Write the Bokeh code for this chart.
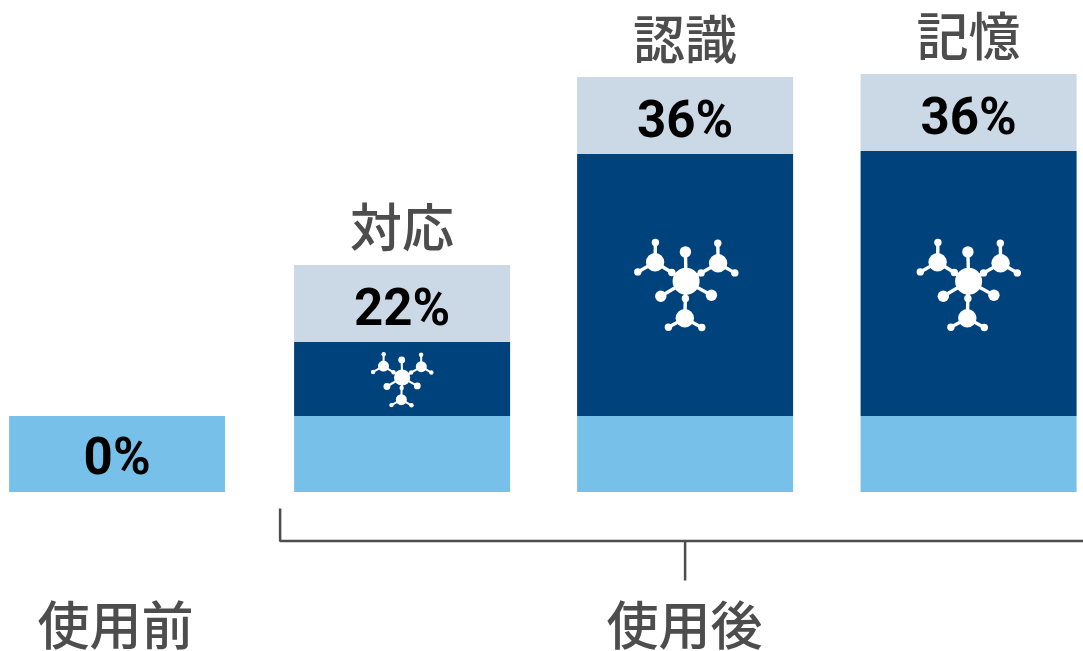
from bokeh.plotting import figure
from bokeh.models import Range1d
from bokeh.core.properties import value
from bokeh.embed import file_html
from bokeh.resources import INLINE
import numpy as np

categories = ["使用前", "対応", "認識", "記憶"]
percent_labels = ["0%", "22%", "36%", "36%"]
base_heights = [76, 76, 76, 76]
effect_heights = [0, 74, 262, 265]
cap_heights = [0, 77, 77, 77]
bar_centers = [117, 402, 685, 968.5]
group_labels = ["使用前", "使用後"]

BAR_W = 216
BASE, DARK, CAP = "#76C0E9", "#00427C", "#CBD8E5"
INK = "#4D4D4D"
CJK = value("Noto Sans CJK JP Medium")

p = figure(width=1083, height=651, output_backend="svg", toolbar_location=None,
           x_range=Range1d(0.4, 1083.4), y_range=Range1d(491.5 - 651, 491.5),
           min_border=0, outline_line_color=None, background_fill_color="white")
p.xaxis.visible = False
p.yaxis.visible = False
p.grid.visible = False

b = np.array(base_heights, dtype=float)
d = b + np.array(effect_heights, dtype=float)
c = d + np.array(cap_heights, dtype=float)
x = np.array(bar_centers, dtype=float)

p.vbar(x=x, width=BAR_W, bottom=0, top=b, fill_color=BASE, line_color=None)
p.vbar(x=x[1:], width=BAR_W, bottom=b[1:], top=d[1:], fill_color=DARK, line_color=None)
p.vbar(x=x[1:], width=BAR_W, bottom=d[1:], top=c[1:], fill_color=CAP, line_color=None)

# molecule icon (offsets in px, y up, from icon centre)
nodes = [(0, 0, 13.5), (-0.7, 29.3, 5.7), (-25.3, -15, 5.7), (25.3, -14, 5.7),
         (-14.3, 8.7, 3.7), (15, 8.3, 3.7), (-0.7, -17.3, 3.7),
         (-31, 19, 9.2), (-30.7, 38.7, 3.7), (-48.3, 9.3, 3.7),
         (32, 18, 9.2), (31.7, 38, 3.7), (48.7, 8.3, 3.7),
         (-1.3, -37, 9.2), (-17.7, -46, 3.7), (15.7, -46.3, 3.7)]
links = [(0, 1), (0, 2), (0, 3), (0, 4), (0, 5), (0, 6), (4, 7), (7, 8), (7, 9),
         (5, 10), (10, 11), (10, 12), (6, 13), (13, 14), (13, 15)]

def icon(cx, cy, s):
    xs = [cx + n[0] * s for n in nodes]
    ys = [cy + n[1] * s for n in nodes]
    rs = [n[2] * s for n in nodes]
    p.segment(x0=[xs[i] for i, j in links], y0=[ys[i] for i, j in links],
              x1=[xs[j] for i, j in links], y1=[ys[j] for i, j in links],
              line_color="white", line_width=3.4 * s)
    p.circle(x=xs, y=ys, radius=rs, fill_color="white", line_color=None)

icon(x[1], 114.5, 0.6)
icon(x[2] + 1, 210.8, 1)
icon(x[3], 210.8, 1)

# percent labels
pct_y = [b[0] / 2 - 2.5] + [(d[i] + c[i]) / 2 - 4 for i in (1, 2, 3)]
p.text(x=x, y=pct_y, text=percent_labels, text_align="center", text_baseline="middle",
       text_font=value("Roboto"), text_font_style="bold",
       text_font_size="51px", text_color="#000000")

# category labels
p.text(x=x[1:], y=c[1:] + 40.5, text=categories[1:], text_align="center", text_baseline="middle",
       text_font=CJK, text_font_size="52px", text_color=INK)

# group labels
p.text(x=[115.5, 684.5], y=[-130.5, -130.5], text=group_labels, text_align="center", text_baseline="middle",
       text_font=CJK, text_font_size="52px", text_color=INK)

# bracket
p.line(x=[280, 280, 1083.4], y=[491.5 - 508, 491.5 - 540.5, 491.5 - 540.5], line_color=INK, line_width=2.5)
p.line(x=[685, 685], y=[491.5 - 540.5, 491.5 - 580], line_color=INK, line_width=2.5)

open("out.html", "w").write(file_html(p, INLINE))
